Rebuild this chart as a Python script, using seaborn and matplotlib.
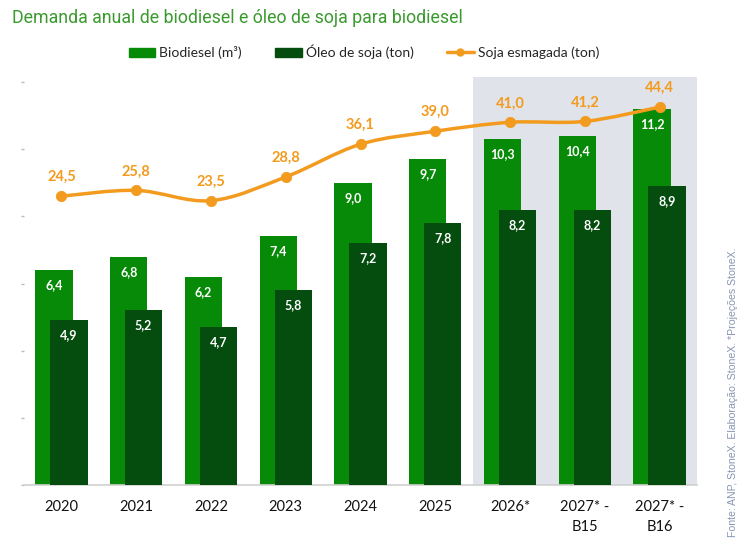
import numpy as np
import pandas as pd
import matplotlib
matplotlib.use("Agg")
import matplotlib.pyplot as plt
from matplotlib.path import Path
from matplotlib.patches import PathPatch, Patch
from matplotlib.lines import Line2D
import seaborn as sns

categories = ["2020", "2021", "2022", "2023", "2024", "2025", "2026*", "2027* -\nB15", "2027* -\nB16"]
biodiesel = [6.4, 6.8, 6.2, 7.4, 9.0, 9.7, 10.3, 10.4, 11.2]
oleo = [4.9, 5.2, 4.7, 5.8, 7.2, 7.8, 8.2, 8.2, 8.9]
soja = [24.5, 25.8, 23.5, 28.8, 36.1, 39.0, 41.0, 41.2, 44.4]

C_BIO = "#078a07"
C_OLEO = "#044d0e"
C_SOJA = "#f29b1f"
C_SHADE = "#e0e4ea"

sns.set_theme(style="white")
plt.rcParams["font.family"] = ["Lato", "DejaVu Sans"]

fig = plt.figure(figsize=(7.46, 5.53), dpi=100)
ax = fig.add_axes([24/746, 1-485/553, 673/746, (485-82)/553])

pos = np.arange(len(categories))
ax.axvspan(5.5, 8.5, ymin=0, ymax=1.013, color=C_SHADE, zorder=0, lw=0, clip_on=False)

df_b = pd.DataFrame({"x": pos - 0.1, "y": biodiesel})
df_o = pd.DataFrame({"x": pos + 0.1, "y": oleo})
sns.barplot(data=df_b, x="x", y="y", native_scale=True, width=0.5, color=C_BIO,
            saturation=1, ax=ax, zorder=2, linewidth=0)
sns.barplot(data=df_o, x="x", y="y", native_scale=True, width=0.5, color=C_OLEO,
            saturation=1, ax=ax, zorder=3, linewidth=0)

ax.set_xlim(-0.5, 8.5)
ax.set_ylim(0, 12)
ax.set_xticks(pos)
ax.set_xticklabels(categories, fontsize=10.5, color="#111111", linespacing=1.5)
ax.set_yticks(np.arange(0, 13, 2))
ax.set_yticklabels([])
ax.tick_params(axis="y", length=2, width=1, color="#bbbbbb", left=True, pad=0)
ax.tick_params(axis="x", length=0, pad=11)
ax.set_xlabel("")
ax.set_ylabel("")
for s in ["top", "right", "left"]:
    ax.spines[s].set_visible(False)
ax.spines["bottom"].set_color("#d0d0d0")
ax.spines["bottom"].set_linewidth(1.2)
ax.patch.set_alpha(0)

for i in range(len(categories)):
    ax.annotate(f"{biodiesel[i]:.1f}".replace(".", ","), (pos[i] - 0.1, biodiesel[i]),
                xytext=(0, -15), textcoords="offset pixels",
                ha="center", va="center", color="white", fontsize=9, fontweight="bold", zorder=5)
    ax.annotate(f"{oleo[i]:.1f}".replace(".", ","), (pos[i] + 0.1, oleo[i]),
                xytext=(0, -15), textcoords="offset pixels",
                ha="center", va="center", color="white", fontsize=9, fontweight="bold", zorder=5)

ax2 = ax.twinx()
ax2.set_ylim(-40, 50)
ax2.axis("off")

# smoothed line (Bezier through the data points)
xs = pos.astype(float)
ys = np.array(soja, dtype=float)
verts = [(xs[0], ys[0])]
codes = [Path.MOVETO]
n = len(xs)
for i in range(n - 1):
    p0 = np.array([xs[max(i-1, 0)], ys[max(i-1, 0)]])
    p1 = np.array([xs[i], ys[i]])
    p2 = np.array([xs[i+1], ys[i+1]])
    p3 = np.array([xs[min(i+2, n-1)], ys[min(i+2, n-1)]])
    c1 = p1 + (p2 - p0) / 6
    c2 = p2 - (p3 - p1) / 6
    verts += [tuple(c1), tuple(c2), tuple(p2)]
    codes += [Path.CURVE4] * 3
ax2.add_patch(PathPatch(Path(verts, codes), fill=False, edgecolor=C_SOJA, lw=2.5, zorder=6))
sns.scatterplot(x=xs, y=ys, ax=ax2, color=C_SOJA, s=55, edgecolor=C_SOJA, zorder=7, legend=False)
for i in range(n):
    ax2.annotate(f"{soja[i]:.1f}".replace(".", ","), (xs[i], ys[i]), xytext=(0, 19),
                 textcoords="offset pixels", ha="center", va="center",
                 color=C_SOJA, fontsize=10.5, fontweight="bold", zorder=8)

handles = [Patch(color=C_BIO, label="Biodiesel (m³)"),
           Patch(color=C_OLEO, label="Óleo de soja (ton)"),
           Line2D([0], [0], color=C_SOJA, lw=2.5, marker="o", markersize=5, label="Soja esmagada (ton)")]
fig.legend(handles=handles, loc="center", bbox_to_anchor=(364/746, 1-52/553), ncol=3, frameon=False,
           fontsize=10, handlelength=1.9, handleheight=0.7, columnspacing=2.4, handletextpad=0.3)

fig.text(12/746, 1-18/553, "Demanda anual de biodiesel e óleo de soja para biodiesel",
         fontsize=12.8, color="#3a9a2e", ha="left", va="center", family=["Roboto", "DejaVu Sans"])
fig.text(733/746, 1-392/553, "Fonte: ANP, StoneX. Elaboração: StoneX. *Projeções StoneX.",
         rotation=90, fontsize=7.6, color="#8796b4", ha="center", va="center",
         family=["Liberation Sans", "DejaVu Sans"])

fig.savefig("out.png", dpi=100)
